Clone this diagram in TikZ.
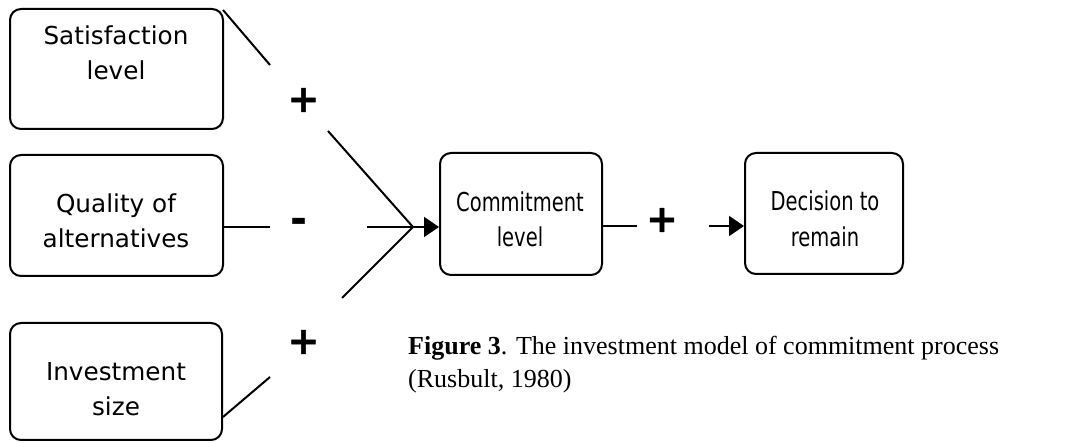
\documentclass[tikz,border=0pt]{standalone}
\usepackage{fontspec}
\setmainfont{Liberation Serif}
\newfontfamily\boxfont{DejaVu Sans}
\newfontfamily\narrowfont[FakeStretch=0.75]{DejaVu Sans}
\newfontfamily\signfont[FakeBold=1.5]{DejaVu Sans Bold}
\usetikzlibrary{arrows.meta,calc}
\begin{document}
\begin{tikzpicture}[x=1pt,y=-1pt,
  box/.style={draw,line width=2pt,rounded corners=11pt,inner sep=0pt},
  txt/.style={inner sep=0pt,anchor=base,font=\boxfont\fontsize{24.7}{30}\selectfont},
  ntxt/.style={inner sep=0pt,anchor=base,font=\narrowfont\fontsize{26}{30}\selectfont},
  sign/.style={inner sep=0pt,font=\signfont\fontsize{38}{44}\selectfont},
  conn/.style={line width=2pt},
  arr/.style={line width=2pt,-{Triangle[length=15pt,width=20pt]}},
  captxt/.style={inner sep=0pt,anchor=base west,font=\fontsize{26}{30}\selectfont}]
\useasboundingbox (0,0) rectangle (1074,443);
% boxes
\node[box,minimum width=213pt,minimum height=120pt] (sat) at (116.5,69) {};
\node[box,minimum width=213pt,minimum height=121pt] (qua) at (116.5,215.5) {};
\node[box,minimum width=212pt,minimum height=117pt] (inv) at (116,381.5) {};
\node[box,minimum width=162pt,minimum height=122pt] (com) at (521,214) {};
\node[box,minimum width=158pt,minimum height=121pt] (dec) at (824,213.5) {};
% box texts
\node[txt] (sat1) at (116,45) {Satisfaction};
\node[txt] (sat2) at (116,80) {level};
\node[txt] (qua1) at (116,213) {Quality of};
\node[txt] (qua2) at (116,248) {alternatives};
\node[txt] (inv1) at (116,381) {Investment};
\node[txt] (inv2) at (116,416) {size};
\node[ntxt] (com1) at (520,212) {Commitment};
\node[ntxt] (com2) at (520,247) {level};
\node[ntxt] (dec1) at (825,211) {Decision to};
\node[ntxt] (dec2) at (825,247) {remain};
% signs
\node[sign] (p1) at (303.5,100) {+};
\node[sign] (m1) at (298.5,225) {-};
\node[sign] (p3) at (303.5,342) {+};
\node[sign] (p2) at (662,220) {+};
% junction and gap ends
\coordinate (J) at (413,227);
\coordinate (s0) at (223,10);
\coordinate (s1) at (270,65);
\coordinate (s2) at (328,131);
\coordinate (q1) at (270,227);
\coordinate (q2) at (367,227);
\coordinate (i0) at (223,417);
\coordinate (i1) at (270,377);
\coordinate (i2) at (342,298);
\coordinate (c1) at (637,226);
\coordinate (c2) at (709,226);
% connectors
\draw[conn] (s0) -- (s1);
\draw[conn] (s2) -- (J);
\draw[conn] (qua.east |- q1) -- (q1);
\draw[conn] (q2) -- (J);
\draw[conn] (i0) -- (i1);
\draw[conn] (i2) -- (J);
\draw[arr] (J) -- (com.west |- J);
\draw[conn] (com.east |- c1) -- (c1);
\draw[arr] (c2) -- (dec.west |- c2);
% caption
\node[captxt] (cap1) at (408,355) {\textbf{Figure 3}. The investment model of commitment process};
\node[captxt] (cap2) at (408,388) {(Rusbult, 1980)};
\end{tikzpicture}
\end{document}
